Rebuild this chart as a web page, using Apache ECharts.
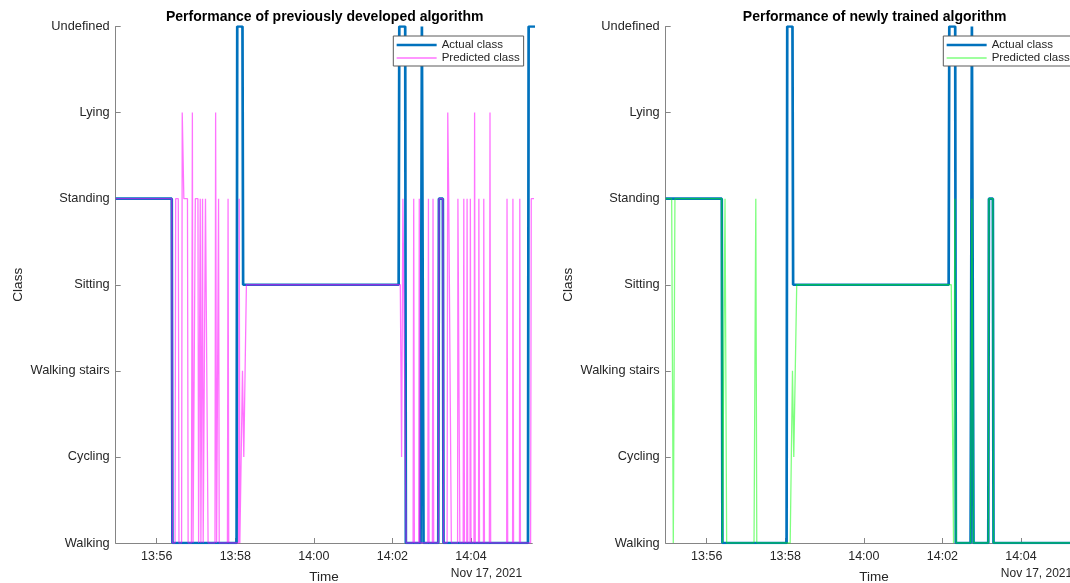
<!DOCTYPE html>
<html>
<head>
<meta charset="utf-8">
<title>Algorithm performance</title>
<script src="https://cdn.jsdelivr.net/npm/echarts@6/dist/echarts.min.js"></script>
<style>
  html, body { margin: 0; padding: 0; background: #fff; }
  #chart { width: 1070px; height: 583px; }
</style>
</head>
<body>
<div id="chart"></div>
<script>
// class levels, bottom to top
const classNames = ['Walking', 'Cycling', 'Walking stairs', 'Sitting', 'Standing', 'Lying', 'Undefined'];

// time axis
const tickLabels = ['13:56', '13:58', '14:00', '14:02', '14:04'];
const timeStart = '13:54:57.4';
const timeEnd = '14:05:33.6';
const dateLabel = 'Nov 17, 2021';

// actual class (same recording in both panels)
const actualClass = [
  ['13:54:57.4', 4], ['13:56:23', 4], ['13:56:24', 0],
  ['13:58:02', 0], ['13:58:03', 6], ['13:58:11', 6], ['13:58:12', 3],
  ['14:02:09.5', 3], ['14:02:10.5', 6], ['14:02:19.5', 6], ['14:02:20.5', 0],
  ['14:02:43', 0], ['14:02:45', 6], ['14:02:47.5', 0],
  ['14:03:10', 0], ['14:03:11', 4], ['14:03:17', 4], ['14:03:18', 0],
  ['14:05:27', 0], ['14:05:28', 6], ['14:05:40', 6]
];

// predicted class, previously developed algorithm
const predictedOld = [
  ['13:54:57.4', 4], ['13:56:23', 4], ['13:56:24', 0],
  ['13:56:28', 0], ['13:56:29', 4], ['13:56:33', 4], ['13:56:34', 0],
  ['13:56:38', 0], ['13:56:39', 5], ['13:56:41.5', 4], ['13:56:47', 4], ['13:56:48', 0],
  ['13:56:53', 0], ['13:56:54.5', 5], ['13:56:55.5', 0],
  ['13:56:58.5', 0], ['13:56:59', 4], ['13:57:03', 4], ['13:57:04', 0],
  ['13:57:05.5', 0], ['13:57:06.5', 4], ['13:57:07.5', 0],
  ['13:57:09', 0], ['13:57:10', 4], ['13:57:11', 0],
  ['13:57:14', 0], ['13:57:14.5', 4], ['13:57:17.5', 4], ['13:57:18.5', 0],
  ['13:57:29', 0], ['13:57:30', 5], ['13:57:31.5', 0],
  ['13:57:33.5', 0], ['13:57:34.5', 4], ['13:57:35.5', 0],
  ['13:57:48', 0], ['13:57:49', 4], ['13:57:50', 0],
  ['13:58:05', 0], ['13:58:06', 4], ['13:58:07', 0],
  ['13:58:08', 0], ['13:58:11', 2], ['13:58:13', 1], ['13:58:17', 3],
  ['14:02:12', 3], ['14:02:14', 1], ['14:02:16', 4], ['14:02:19', 4], ['14:02:21', 0],
  ['14:02:31.5', 0], ['14:02:32.5', 4], ['14:02:33.5', 0],
  ['14:02:40', 0], ['14:02:41', 4], ['14:02:42', 0],
  ['14:02:54', 0], ['14:02:55', 4], ['14:02:56', 0],
  ['14:03:01', 0], ['14:03:02', 4], ['14:03:03', 0],
  ['14:03:10', 0], ['14:03:11', 4], ['14:03:17', 4], ['14:03:18', 0],
  ['14:03:23.5', 0], ['14:03:24.5', 5], ['14:03:26', 4], ['14:03:29', 4], ['14:03:30', 0],
  ['14:03:39.5', 0], ['14:03:40', 4], ['14:03:42.5', 4], ['14:03:43', 0],
  ['14:03:48', 0], ['14:03:49', 4], ['14:03:50', 0],
  ['14:03:53.5', 0], ['14:03:54', 4], ['14:03:55', 0],
  ['14:03:58.5', 0], ['14:03:59', 4], ['14:04:00', 0],
  ['14:04:04.5', 0], ['14:04:05.5', 5], ['14:04:06.5', 0],
  ['14:04:11.5', 0], ['14:04:12', 4], ['14:04:13', 0],
  ['14:04:19', 0], ['14:04:19.5', 4], ['14:04:20.5', 0],
  ['14:04:28', 0], ['14:04:29', 5], ['14:04:30', 0],
  ['14:04:54.5', 0], ['14:04:55', 4], ['14:04:56', 0],
  ['14:05:03.5', 0], ['14:05:04', 4], ['14:05:05', 0],
  ['14:05:14', 0], ['14:05:14.5', 4], ['14:05:15.5', 0],
  ['14:05:31', 0], ['14:05:32', 4], ['14:05:40', 4]
];

// predicted class, newly trained algorithm
const predictedNew = [
  ['13:54:57.4', 4], ['13:55:06.5', 4], ['13:55:09', 0], ['13:55:11.5', 4],
  ['13:56:23', 4], ['13:56:24', 0],
  ['13:56:25', 0], ['13:56:28', 4], ['13:56:30.5', 0],
  ['13:57:12.3', 0], ['13:57:15', 4], ['13:57:16.5', 0],
  ['13:58:07.5', 0], ['13:58:11', 2], ['13:58:13', 1], ['13:58:17.5', 3],
  ['14:02:13.5', 3], ['14:02:17', 0], ['14:02:19', 4], ['14:02:21', 0],
  ['14:02:43', 0], ['14:02:45', 4], ['14:02:47.5', 0],
  ['14:03:10', 0], ['14:03:11', 4], ['14:03:17', 4], ['14:03:18', 0],
  ['14:05:40', 0]
];

const titles = ['Performance of previously developed algorithm', 'Performance of newly trained algorithm'];

const toSec = (s) => {
  const p = s.split(':');
  return (+p[0]) * 3600 + (+p[1]) * 60 + (p.length > 2 ? parseFloat(p[2]) : 0);
};
const toPoints = (arr) => arr.map(d => [toSec(d[0]), d[1]]);
const tickSecs = tickLabels.map(toSec);

const font = "'Liberation Sans', Arial, sans-serif";
const textColor = '#262626';
const axisColor = '#858585';
const blue = '#0072BD';
const pink = 'rgba(255, 0, 255, 0.55)';
const green = 'rgba(0, 255, 0, 0.5)';

// panel geometry (the right panel runs past the page edge, as in the original)
const panels = [
  { left: 115.7, predicted: predictedOld, color: pink },
  { left: 665.7, predicted: predictedNew, color: green }
];
const plotTop = 26.5;
const plotW = 416.6;
const plotH = 516.5;

const chart = echarts.init(document.getElementById('chart'));

const option = {
  animation: false,
  backgroundColor: '#fff',
  textStyle: { fontFamily: font },
  title: panels.map((p, i) => ({
    text: titles[i],
    left: p.left + 209,
    top: 10,
    padding: 0,
    textAlign: 'center',
    textStyle: { fontSize: 14, fontWeight: 'bold', color: '#000', fontFamily: font }
  })),
  legend: panels.map((p, i) => ({
    orient: 'vertical',
    left: p.left + 277.6,
    top: 36,
    padding: [3, 4, 2, 2],
    itemWidth: 40,
    itemHeight: 14,
    itemGap: 1,
    backgroundColor: '#fff',
    borderColor: '#5a5a5a',
    borderWidth: 1,
    borderRadius: 0,
    // hide the marker dot, keep only the line sample
    itemStyle: { color: 'rgba(0,0,0,0)', borderWidth: 0, opacity: 0 },
    textStyle: { fontSize: 11.5, color: textColor, fontFamily: font },
    data: [
      { name: 'Actual class', lineStyle: { color: blue, width: 2.7 } },
      { name: 'Predicted class', lineStyle: { color: p.color, width: 1.5 } }
    ]
  })),
  grid: panels.map(p => ({
    left: p.left, top: plotTop, width: plotW, height: plotH,
    outerBoundsMode: 'none', containLabel: false
  })),
  xAxis: panels.map((p, i) => ({
    type: 'value',
    gridIndex: i,
    min: toSec(timeStart),
    max: toSec(timeEnd),
    name: 'Time',
    nameLocation: 'middle',
    nameGap: 27,
    nameTextStyle: { fontSize: 13.5, color: textColor },
    axisLine: { show: true, onZero: false, lineStyle: { color: axisColor, width: 1 } },
    axisTick: { show: true, inside: true, length: 5, customValues: tickSecs, lineStyle: { color: axisColor } },
    axisLabel: {
      customValues: tickSecs,
      margin: 7,
      fontSize: 12.5,
      color: textColor,
      formatter: (v) => tickLabels[tickSecs.indexOf(v)] || ''
    },
    splitLine: { show: false }
  })),
  yAxis: panels.map((p, i) => ({
    type: 'value',
    gridIndex: i,
    min: 0,
    max: 6,
    interval: 1,
    name: 'Class',
    nameLocation: 'middle',
    nameGap: 90,
    nameTextStyle: { fontSize: 13.5, color: textColor },
    axisLine: { show: true, lineStyle: { color: axisColor, width: 1 } },
    axisTick: { show: true, inside: true, length: 5, lineStyle: { color: axisColor } },
    axisLabel: {
      margin: 6,
      fontSize: 12.8,
      color: textColor,
      formatter: (v) => classNames[v]
    },
    splitLine: { show: false }
  })),
  graphic: panels.map(p => ({
    type: 'text',
    x: p.left + 406.5,
    y: 574,
    style: {
      text: dateLabel,
      align: 'right',
      verticalAlign: 'middle',
      fontSize: 12,
      fontFamily: font,
      fill: textColor
    }
  })),
  series: []
};

panels.forEach((p, i) => {
  option.series.push({
    name: 'Actual class',
    type: 'line',
    xAxisIndex: i,
    yAxisIndex: i,
    symbol: 'none',
    lineStyle: { color: blue, width: 2.7 },
    itemStyle: { color: blue },
    data: toPoints(actualClass)
  });
  option.series.push({
    name: 'Predicted class',
    type: 'line',
    xAxisIndex: i,
    yAxisIndex: i,
    symbol: 'none',
    lineStyle: { color: p.color, width: 1.3 },
    itemStyle: { color: p.color },
    data: toPoints(p.predicted)
  });
});

chart.setOption(option);
</script>
</body>
</html>
